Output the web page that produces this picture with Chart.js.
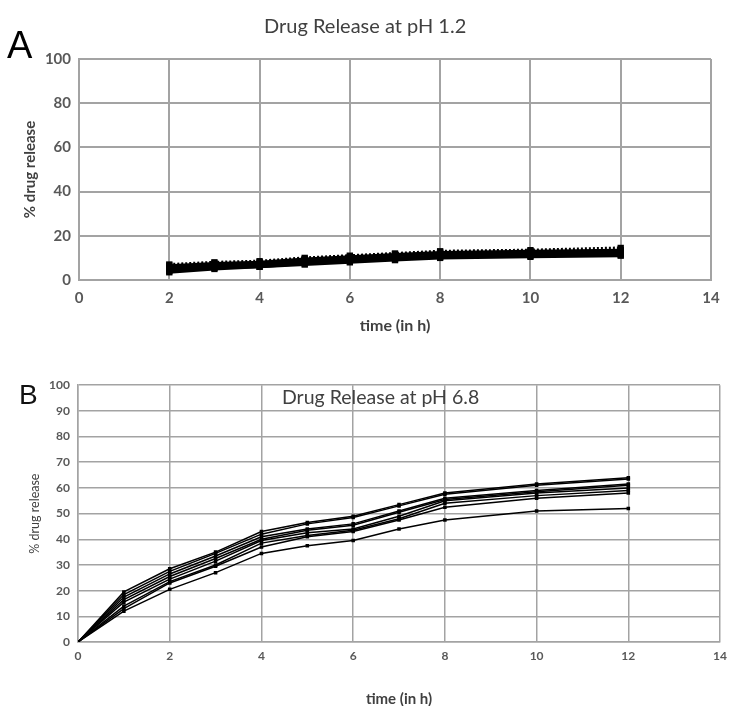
<!DOCTYPE html>
<html>
<head>
<meta charset="utf-8">
<script src="https://cdn.jsdelivr.net/npm/chart.js@4.4.1/dist/chart.umd.min.js"></script>
<style>
  body { margin: 0; background: #fff; width: 734px; height: 706px; overflow: hidden; position: relative; }
  canvas { position: absolute; left: 0; }
  .lbl { position: absolute; white-space: nowrap; }
</style>
</head>
<body>
<canvas id="chartA" width="734" height="340" style="top:0"></canvas>
<canvas id="chartB" width="734" height="340" style="top:370px"></canvas>
<div class="lbl" style="left:7px;top:24px;font:38px 'Liberation Sans';color:#000">A</div>
<div class="lbl" style="left:264px;top:13px;font:20px Lato;color:#404040">Drug Release at pH 1.2</div>
<div class="lbl" style="left:19px;top:379px;font:28px 'Liberation Sans';color:#111">B</div>
<div class="lbl" style="left:282px;top:385px;font:19.5px Lato;color:#404040">Drug Release at pH 6.8</div>
<script>
// pH 1.2 release, sampled from 2 h
const timesA = [2, 3, 4, 5, 6, 7, 8, 10, 12];
const seriesA = [
  [7, 8, 8.5, 10, 11, 12, 13, 13.5, 14.5],
  [6.5, 7.5, 8, 9.5, 10.5, 11.5, 12.5, 13, 13.5],
  [5.5, 7, 7.5, 9, 10, 11, 12, 12.5, 13],
  [5, 6, 7, 8, 9, 10, 11, 12, 12],
  [4, 5.5, 6, 7.5, 8.5, 9.5, 10.5, 11, 11.5],
  [3.5, 5, 6, 7, 8, 9, 10, 10.5, 11]
];

// pH 6.8 release
const timesB = [0, 1, 2, 3, 4, 5, 6, 7, 8, 10, 12];
const seriesB = [
  [0, 19.5, 28.5, 35, 43, 46.5, 49, 53.5, 58, 61.5, 64],
  [0, 18.5, 27.5, 34.5, 42, 46, 48.5, 53, 57.5, 61, 63.5],
  [0, 17.5, 26.5, 33.5, 41, 44, 46, 51, 56, 59, 61.5],
  [0, 16.5, 25.5, 32.5, 40, 43.5, 45.5, 50.5, 55.5, 58.5, 61],
  [0, 15.5, 24.5, 31.5, 39.5, 42.5, 44, 49, 55, 58, 60],
  [0, 14, 23.5, 30, 38.5, 41.5, 43.5, 48, 54, 57, 59],
  [0, 13, 23, 29.5, 37, 41, 43, 47.5, 52.5, 56, 58],
  [0, 12, 20.5, 27, 34.5, 37.5, 39.5, 44, 47.5, 51, 52]
];

const gridGrey = '#a3a3a3';
const tickGrey = '#595959';

function toPoints(times, values) {
  return values.map((v, i) => ({ x: times[i], y: v }));
}

function makeDatasets(times, series, opts) {
  return series.map((vals, i) => ({
    data: toPoints(times, vals),
    borderColor: '#000',
    backgroundColor: '#000',
    borderWidth: opts.lineWidth,
    borderDash: (opts.dashFirst && i === 0) ? [2, 2] : [],
    pointStyle: 'rect',
    pointRadius: opts.pointRadius,
    pointBorderWidth: 0,
    tension: 0
  }));
}

function makeOptions(cfg) {
  return {
    responsive: false,
    animation: false,
    layout: { padding: { left: 0, top: cfg.top, right: cfg.right, bottom: 0 } },
    plugins: { legend: { display: false }, tooltip: { enabled: false } },
    scales: {
      x: {
        type: 'linear',
        min: 0, max: 14,
        ticks: { stepSize: 2, color: tickGrey, padding: cfg.xTickPad, font: { family: 'Lato', size: cfg.tickSize, weight: 'bold' } },
        grid: { color: gridGrey, lineWidth: cfg.gridWidth, drawTicks: false },
        border: { color: gridGrey, width: cfg.gridWidth },
        title: { display: true, text: 'time (in h)', color: '#404040', padding: { top: 0, bottom: cfg.xTitlePad }, font: { family: 'Lato', size: cfg.xTitleSize, weight: 'bold' } },
        afterFit: s => { s.height = cfg.xHeight; }
      },
      y: {
        min: 0, max: 100,
        ticks: { stepSize: cfg.yStep, color: tickGrey, padding: cfg.yTickPad, font: { family: 'Lato', size: cfg.tickSize, weight: 'bold' } },
        grid: { color: gridGrey, lineWidth: cfg.gridWidth, drawTicks: false },
        border: { color: gridGrey, width: cfg.gridWidth },
        title: { display: true, text: '% drug release', color: '#404040', padding: { top: cfg.yTitlePad, bottom: 0 }, font: { family: 'Lato', size: cfg.yTitleSize, weight: cfg.yTitleWeight } },
        afterFit: s => { s.width = cfg.yWidth; }
      }
    }
  };
}

new Chart(document.getElementById('chartA'), {
  type: 'line',
  data: { datasets: makeDatasets(timesA, seriesA, { lineWidth: 3, pointRadius: 4.5, dashFirst: true }) },
  options: makeOptions({
    top: 59, right: 23, xHeight: 60, yWidth: 79,
    tickSize: 15, yStep: 20, gridWidth: 2,
    xTickPad: 9, yTickPad: 8,
    xTitleSize: 16, xTitlePad: 5,
    yTitleSize: 15, yTitlePad: 21, yTitleWeight: 'bold'
  })
});

new Chart(document.getElementById('chartB'), {
  type: 'line',
  data: { datasets: makeDatasets(timesB, seriesB, { lineWidth: 1.5, pointRadius: 2.5, dashFirst: false }) },
  options: makeOptions({
    top: 13, right: 9, xHeight: 68, yWidth: 78,
    tickSize: 12, yStep: 10, gridWidth: 1.5,
    xTickPad: 7, yTickPad: 8,
    xTitleSize: 15, xTitlePad: 2,
    yTitleSize: 12.5, yTitlePad: 27, yTitleWeight: 'normal'
  })
});
</script>
</body>
</html>
